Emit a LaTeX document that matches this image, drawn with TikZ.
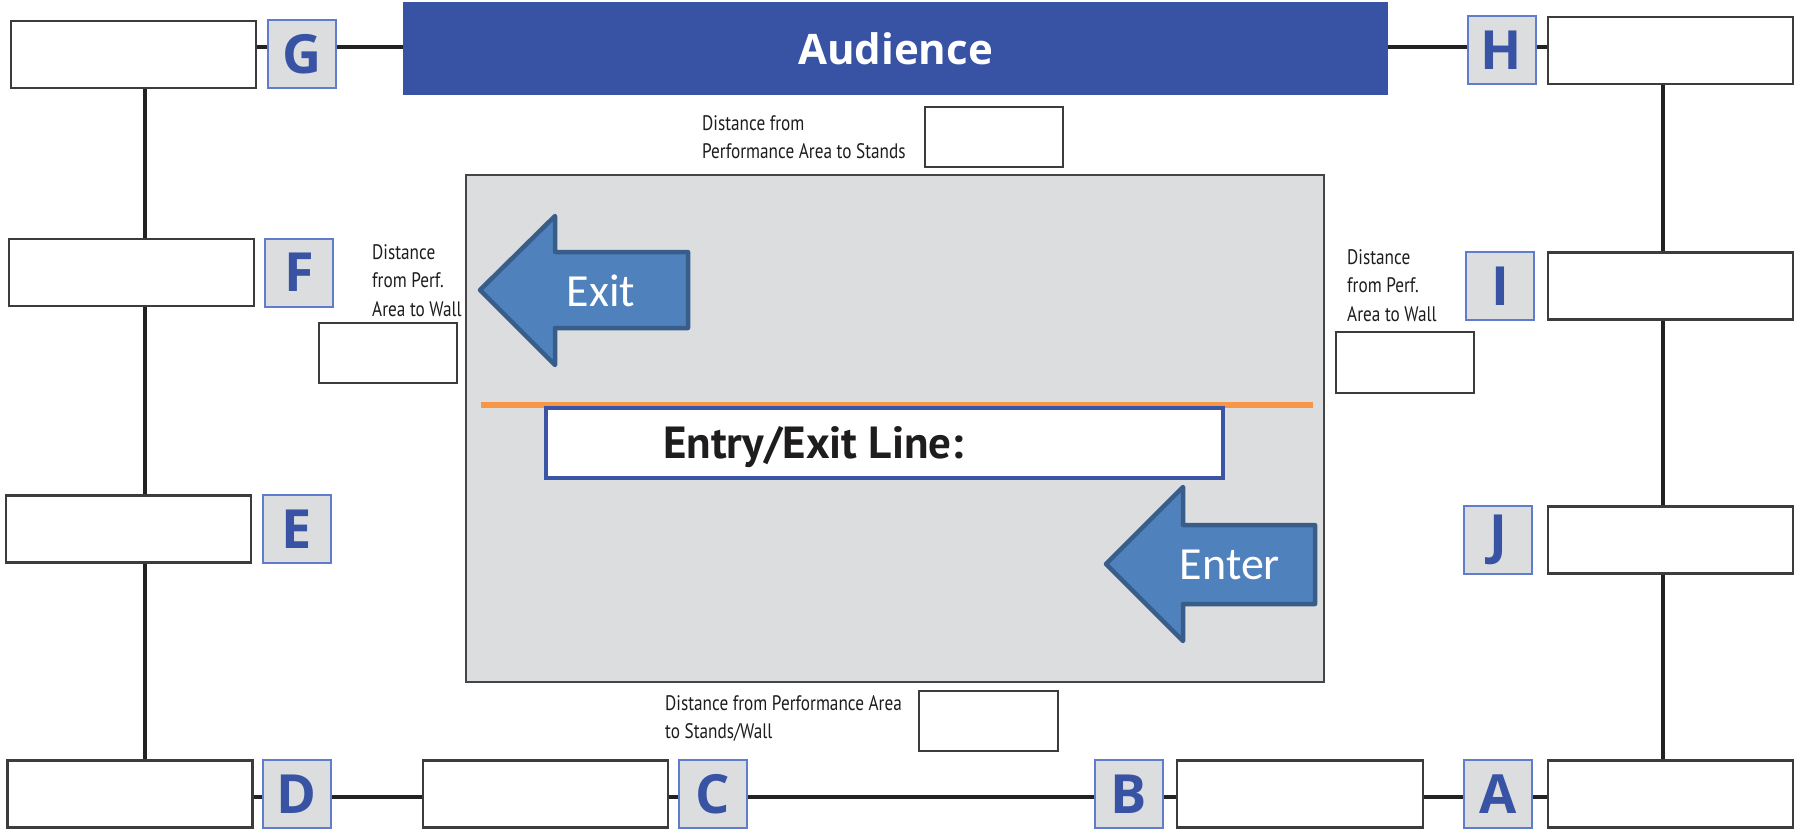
\documentclass[tikz,border=0pt]{standalone}
\usepackage{fontspec}
\setmainfont{PT Sans}
\newfontfamily\condfont[FakeStretch=0.82]{PT Sans}
\newfontfamily\labfont{Open Sans}
\newfontfamily\calfont{Carlito}
\definecolor{audblue}{RGB}{57,83,164}
\definecolor{labfill}{RGB}{220,221,223}
\definecolor{labborder}{RGB}{96,124,204}
\definecolor{labblue}{RGB}{57,83,164}
\definecolor{boxline}{RGB}{60,60,60}
\definecolor{connline}{RGB}{34,34,34}
\definecolor{grayline}{RGB}{70,70,70}
\definecolor{arrfill}{RGB}{79,129,189}
\definecolor{arrdraw}{RGB}{56,93,138}
\definecolor{orangeln}{RGB}{247,150,70}
\definecolor{entryblue}{RGB}{58,85,166}
\definecolor{txtblack}{RGB}{30,28,28}
\tikzset{
 blank/.style={draw=boxline, line width=2.5pt, fill=white, inner sep=0pt, minimum width=245pt, minimum height=67pt},
 letterbox/.style={draw=labborder, line width=2pt, fill=labfill, inner sep=0pt, minimum width=68pt, minimum height=68pt, text=labblue, font=\labfont\bfseries\fontsize{54}{54}\selectfont},
 distbox/.style={draw=boxline, line width=2.5pt, fill=white, inner sep=0pt, minimum width=138pt, minimum height=60pt},
 conn/.style={draw=connline, line width=3.5pt},
 disttext/.style={anchor=north west, inner sep=0pt, align=left, text=txtblack, font=\condfont\fontsize{21}{28.5}\selectfont},
 arrowshape/.style={fill=arrfill, draw=arrdraw, line width=4.5pt, line join=round},
 arrowtext/.style={text=white, font=\calfont\fontsize{46}{46}\selectfont, inner sep=0pt},
}
\begin{document}
\begin{tikzpicture}[x=1pt,y=-1pt]
\useasboundingbox (0,0) rectangle (1806,829);
% helper coordinates
\coordinate (topy) at (0,47);
\coordinate (boty) at (0,797);
\coordinate (lx) at (145,0);
\coordinate (rx) at (1663,0);
% gray performance area
\node[draw=grayline, line width=2pt, fill=labfill, minimum width=858pt, minimum height=507pt, inner sep=0pt] (area) at (895,428.5) {};
% audience bar
\node[fill=audblue, minimum width=985pt, minimum height=93pt, inner sep=0pt, text=white, font=\labfont\bfseries\fontsize{42}{42}\selectfont] (aud) at (895.5,48.5) {Audience};
% top row
\node[blank] (Gbox) at (133.5,54.5) {};
\node[letterbox] (Glab) at (302,54) {G};
\node[letterbox] (Hlab) at (1501.5,50.5) {H};
\node[blank] (Hbox) at (1670.5,50.5) {};
% second row
\node[blank] (Fbox) at (131.5,272.5) {};
\node[letterbox] (Flab) at (299,272.5) {F};
\node[letterbox] (Ilab) at (1500,286) {I};
\node[blank] (Ibox) at (1670.5,286) {};
% third row
\node[blank] (Ebox) at (128.5,529) {};
\node[letterbox] (Elab) at (297,529) {E};
\node[letterbox] (Jlab) at (1498,540) {J};
\node[blank] (Jbox) at (1670.5,540) {};
% bottom row
\node[blank] (Dbox) at (130,794) {};
\node[letterbox] (Dlab) at (296.5,794) {D};
\node[blank] (Cbox) at (545.5,794) {};
\node[letterbox] (Clab) at (713,794) {C};
\node[letterbox] (Blab) at (1129,794) {B};
\node[blank, minimum width=246pt] (Bbox) at (1300,794) {};
\node[letterbox] (Alab) at (1498,794) {A};
\node[blank] (Abox) at (1670.5,794) {};
% connectors
\draw[conn] (Gbox.east |- topy) -- (Glab.west |- topy);
\draw[conn] (Glab.east |- topy) -- (aud.west |- topy);
\draw[conn] (aud.east |- topy) -- (Hlab.west |- topy);
\draw[conn] (Hlab.east |- topy) -- (Hbox.west |- topy);
\draw[conn] (Gbox.south -| lx) -- (Fbox.north -| lx);
\draw[conn] (Fbox.south -| lx) -- (Ebox.north -| lx);
\draw[conn] (Ebox.south -| lx) -- (Dbox.north -| lx);
\draw[conn] (Hbox.south -| rx) -- (Ibox.north -| rx);
\draw[conn] (Ibox.south -| rx) -- (Jbox.north -| rx);
\draw[conn] (Jbox.south -| rx) -- (Abox.north -| rx);
\draw[conn] (Dbox.east |- boty) -- (Dlab.west |- boty);
\draw[conn] (Dlab.east |- boty) -- (Cbox.west |- boty);
\draw[conn] (Cbox.east |- boty) -- (Clab.west |- boty);
\draw[conn] (Clab.east |- boty) -- (Blab.west |- boty);
\draw[conn] (Blab.east |- boty) -- (Bbox.west |- boty);
\draw[conn] (Bbox.east |- boty) -- (Alab.west |- boty);
\draw[conn] (Alab.east |- boty) -- (Abox.west |- boty);
% distance labels and boxes
\node[disttext] (topT) at (702,115) {Distance from\\Performance Area to Stands};
\node[distbox] (topB) at (994,137) {};
\node[disttext] (leftT) at (372,244) {Distance\\from Perf.\\Area to Wall};
\node[distbox] (leftB) at (388,353) {};
\node[disttext] (rightT) at (1347,249) {Distance\\from Perf.\\Area to Wall};
\node[distbox, minimum height=61pt] (rightB) at (1405,362.5) {};
\node[disttext] (botT) at (665,695) {Distance from Performance Area\\to Stands/Wall};
\node[distbox, minimum width=139pt] (botB) at (988.5,721) {};
% entry/exit line
\coordinate (ol1) at (481,405);
\coordinate (ol2) at (1313,405);
\draw[orangeln, line width=5.5pt] (ol1) -- (ol2);
\node[draw=entryblue, line width=4pt, fill=white, minimum width=677pt, minimum height=70pt, inner sep=0pt] (entry) at (884.5,443) {};
\node[anchor=base west, inner sep=0pt, text=txtblack, font=\bfseries\fontsize{45}{45}\selectfont] (entryT) at (663,458) {Entry/Exit Line:};
% exit arrow
\draw[arrowshape] (480,290) -- (555,216) -- (555,252) -- (688,252) -- (688,328) -- (555,328) -- (555,365) -- cycle;
\node[arrowtext] (exitT) at (601,291) {Exit};
% enter arrow
\draw[arrowshape] (1106,564) -- (1183,487) -- (1183,525) -- (1315,525) -- (1315,604) -- (1183,604) -- (1183,641) -- cycle;
\node[arrowtext] (enterT) at (1230,565) {Enter};
\end{tikzpicture}
\end{document}
